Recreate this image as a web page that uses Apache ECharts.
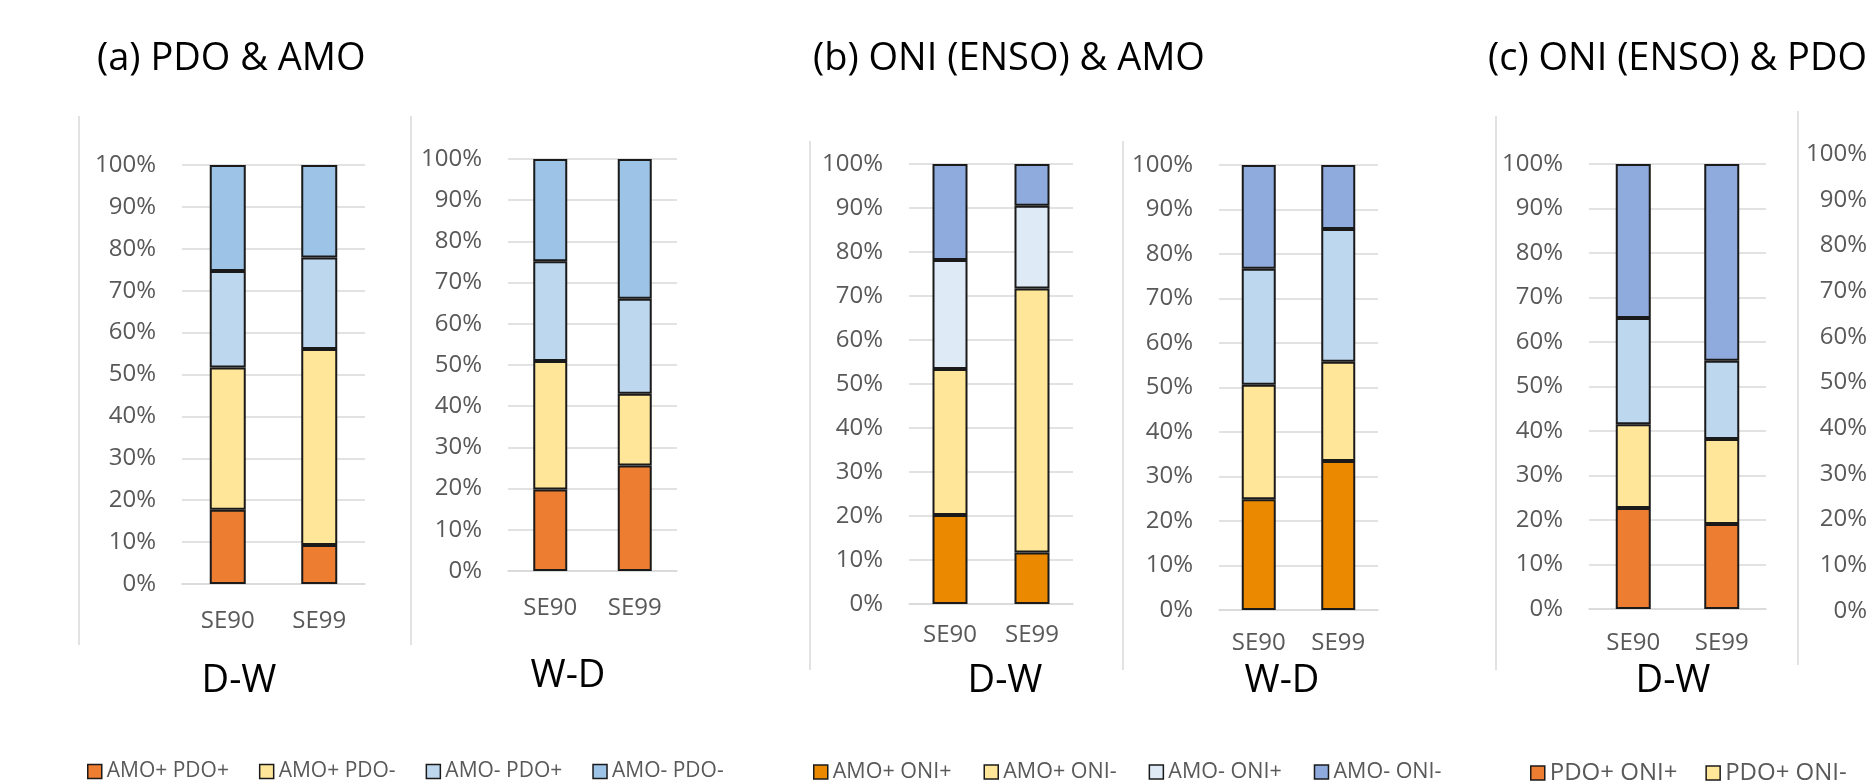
<!DOCTYPE html>
<html>
<head>
<meta charset="utf-8">
<script src="https://cdn.jsdelivr.net/npm/echarts@6/dist/echarts.min.js"></script>
<style>
  html, body { margin: 0; padding: 0; background: #fff; }
  #chart { width: 1872px; height: 783px; }
</style>
</head>
<body>
<div id="chart"></div>
<script>
// Share of events per combined climate-index phase (percent of each station's events)
const categories = ['SE90', 'SE99'];

// (a) PDO & AMO phase combinations
const namesA = ['AMO+ PDO+', 'AMO+ PDO-', 'AMO- PDO+', 'AMO- PDO-'];
// (b) ONI & AMO phase combinations
const namesB = ['AMO+ ONI+', 'AMO+ ONI-', 'AMO- ONI+', 'AMO- ONI-'];
// (c) ONI & PDO phase combinations
const namesC = ['PDO+ ONI+', 'PDO+ ONI-', 'PDO- ONI+', 'PDO- ONI-'];

// one row per phase combination, values for [SE90, SE99]
const pdoAmoDW = [[17.7, 9.3], [34.0, 46.8], [23.0, 21.8], [25.3, 22.1]];
const pdoAmoWD = [[19.8, 25.6], [31.2, 17.4], [24.2, 23.1], [24.8, 33.9]];
const oniAmoDW = [[20.2, 11.7], [33.2, 60.0], [24.8, 18.8], [21.8, 9.5]];
const oniAmoWD = [[24.9, 33.5], [25.7, 22.3], [26.1, 29.8], [23.3, 14.4]];
const oniPdoDW = [[22.7, 19.1], [18.8, 19.1], [23.9, 17.6], [34.6, 44.2]];

const colorsA = ['#ED7D31', '#FFE699', '#BDD7EE', '#9DC3E6'];
const colorsB = ['#EB8A00', '#FFE699', '#DEEBF7', '#8FAADC'];
const colorsBwd = ['#EB8A00', '#FFE699', '#BDD7EE', '#8FAADC'];
const colorsC = ['#ED7D31', '#FFE699', '#BDD7EE', '#8FAADC'];

const FONT = '"Open Sans", "Noto Sans", sans-serif';
const GRID_COLOR = '#D9D9D9';
const LABEL_COLOR = '#595959';

const panels = [
  { rows: pdoAmoDW, names: namesA, colors: colorsA, barWidth: 36, catMargin: 25,
    grid: { left: 182, top: 165, width: 183, height: 419 } },
  { rows: pdoAmoWD, names: namesA, colors: colorsA, barWidth: 34, catMargin: 25,
    grid: { left: 508, top: 159, width: 169, height: 412 } },
  { rows: oniAmoDW, names: namesB, colors: colorsB, barWidth: 35, catMargin: 19,
    grid: { left: 909, top: 164, width: 164, height: 440 } },
  { rows: oniAmoWD, names: namesB, colors: colorsBwd, barWidth: 34, catMargin: 21,
    grid: { left: 1219, top: 165, width: 159, height: 445 } },
  { rows: oniPdoDW, names: namesC, colors: colorsC, barWidth: 35, catMargin: 22,
    grid: { left: 1589, top: 164, width: 177, height: 445 } },
  // W-D panel of (c) continues past the right edge; only its axis shows
  { rows: [], names: namesC, colors: colorsC, barWidth: 35, catMargin: 22,
    grid: { left: 1893, top: 154, width: 170, height: 457 } }
];

const grid = [], xAxis = [], yAxis = [], series = [];
panels.forEach((p, i) => {
  grid.push(Object.assign({ containLabel: false }, p.grid));
  xAxis.push({
    type: 'category', gridIndex: i, data: categories,
    axisLine: { lineStyle: { color: GRID_COLOR, width: 1.5 } },
    axisTick: { show: false },
    axisLabel: { color: LABEL_COLOR, fontFamily: FONT, fontSize: 24, margin: p.catMargin }
  });
  yAxis.push({
    type: 'value', gridIndex: i, min: 0, max: 100, interval: 10,
    axisLine: { show: false }, axisTick: { show: false },
    splitLine: { lineStyle: { color: GRID_COLOR, width: 1.5 } },
    axisLabel: { color: LABEL_COLOR, fontFamily: FONT, fontSize: 24, margin: 26,
                 formatter: '{value}%' }
  });
  p.rows.forEach((vals, k) => {
    series.push({
      type: 'bar', name: p.names[k], xAxisIndex: i, yAxisIndex: i,
      stack: 'panel' + i, barWidth: p.barWidth, data: vals,
      itemStyle: { color: p.colors[k], borderColor: '#1A1A1A', borderWidth: 2 },
      emphasis: { disabled: true }, animation: false
    });
  });
});

// right: negative lets the (c) legend run on past the right edge without wrapping
function legendAt(left, names, colors, fontSize, gap, right) {
  const lg = {
    left: left, top: 756, orient: 'horizontal', selectedMode: false,
    data: names.map((n, k) => ({
      name: n,
      itemStyle: { color: colors[k], borderColor: '#1A1A1A', borderWidth: 1.5 }
    })),
    icon: 'rect', itemWidth: 14, itemHeight: 14, itemGap: gap,
    textStyle: { color: LABEL_COLOR, fontFamily: FONT, fontSize: fontSize }
  };
  if (right !== undefined) lg.right = right;
  return lg;
}

function label(x, y, text, size, align) {
  return {
    type: 'text', x: x, y: y, silent: true,
    style: { text: text, fill: '#000', font: size + 'px ' + FONT,
             textAlign: align, textVerticalAlign: 'middle' }
  };
}

function frame(x, y1, y2) {
  return {
    type: 'line', silent: true,
    shape: { x1: x, y1: y1, x2: x, y2: y2 },
    style: { stroke: GRID_COLOR, lineWidth: 1.5 }
  };
}

const graphic = [
  label(97, 59, '(a) PDO & AMO', 38, 'left'),
  label(813, 59, '(b) ONI (ENSO) & AMO', 38, 'left'),
  label(1488, 59, '(c) ONI (ENSO) & PDO', 38, 'left'),
  label(239, 681, 'D-W', 38, 'center'),
  label(568, 676, 'W-D', 38, 'center'),
  label(1005, 681, 'D-W', 38, 'center'),
  label(1282, 681, 'W-D', 38, 'center'),
  label(1673, 681, 'D-W', 38, 'center'),
  frame(79, 116, 645),
  frame(411, 116, 645),
  frame(810, 141, 670),
  frame(1123, 141, 670),
  frame(1496, 116, 670),
  frame(1798, 111, 665)
];

const chart = echarts.init(document.getElementById('chart'), null, { renderer: 'canvas' });
chart.setOption({
  backgroundColor: '#fff',
  animation: false,
  grid: grid, xAxis: xAxis, yAxis: yAxis, series: series,
  legend: [
    legendAt(82, namesA, colorsA, 21, 30),
    legendAt(808, namesB, colorsB, 21.5, 32),
    legendAt(1525, namesC, colorsC, 24, 28, -500)
  ],
  graphic: graphic
});
</script>
</body>
</html>
